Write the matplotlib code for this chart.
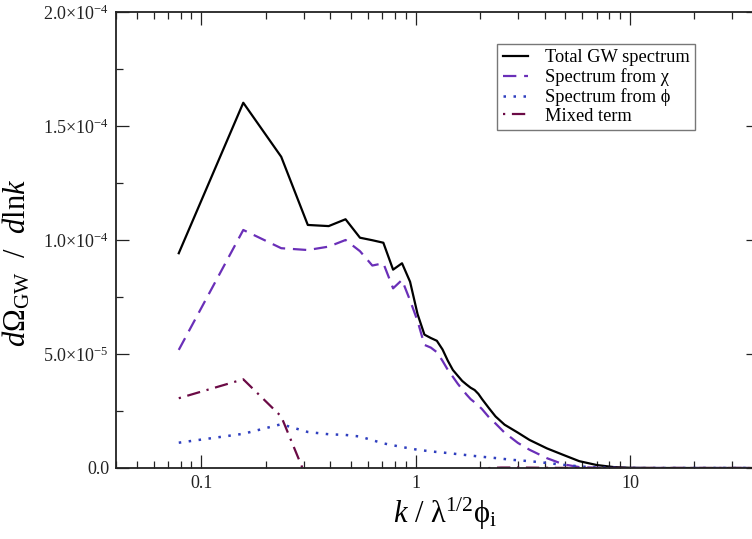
import numpy as np
import matplotlib
matplotlib.use("Agg")
import matplotlib.pyplot as plt
from matplotlib.ticker import FixedLocator, FixedFormatter, LogLocator, NullFormatter

plt.rcParams['font.family'] = ['Liberation Serif', 'DejaVu Serif']
plt.rcParams['mathtext.fontset'] = 'custom'
plt.rcParams['mathtext.rm'] = 'Liberation Serif'
plt.rcParams['mathtext.it'] = 'Liberation Serif:italic'

# k / lambda^(1/2) phi_i
k_main = [0.0785, 0.157, 0.236, 0.314, 0.393, 0.471, 0.550, 0.628, 0.707, 0.785,
          0.864, 0.942, 1.021, 1.099, 1.178, 1.256, 1.335, 1.414, 1.492, 1.571,
          1.649, 1.728, 1.806, 1.885, 1.963, 2.042, 2.2, 2.36, 2.6, 3.0,
          3.4, 4.1, 4.9, 5.8, 7.0, 8.4, 10.0, 13.0, 20.0, 37.0]

# values in units of 1e-4
total_gw = [0.942, 1.602, 1.365, 1.066, 1.061, 1.091, 1.010, 0.999, 0.988, 0.870,
            0.898, 0.817, 0.675, 0.585, 0.570, 0.558, 0.520, 0.470, 0.430, 0.405,
            0.382, 0.366, 0.352, 0.342, 0.325, 0.302, 0.262, 0.226, 0.190, 0.155,
            0.123, 0.086, 0.057, 0.030, 0.013, 0.004, 0.001, 0.0, 0.0, 0.0]

spec_chi = [0.518, 1.044, 0.964, 0.956, 0.971, 1.000, 0.951, 0.888, 0.898, 0.788,
            0.825, 0.735, 0.645, 0.540, 0.528, 0.508, 0.470, 0.430, 0.400, 0.370,
            0.345, 0.322, 0.302, 0.288, 0.274, 0.258, 0.222, 0.195, 0.155, 0.110,
            0.080, 0.043, 0.016, 0.004, 0.001, 0.0, 0.0, 0.0, 0.0, 0.0]

k_phi = [0.0785, 0.157, 0.236, 0.314, 0.393, 0.471, 0.550, 0.628, 0.707, 0.864,
         1.021, 1.2, 1.4, 1.6, 2.0, 2.4, 2.8, 3.4, 4.1, 5.0,
         6.0, 7.0, 10.0, 20.0, 37.0]
spec_phi = [0.111, 0.150, 0.192, 0.158, 0.148, 0.145, 0.138, 0.122, 0.108, 0.092,
            0.080, 0.072, 0.066, 0.060, 0.050, 0.043, 0.036, 0.030, 0.022, 0.013,
            0.006, 0.002, 0.0, 0.0, 0.0]

k_mix = [0.0785, 0.157, 0.236, 0.314, 0.393, 0.471, 0.550, 0.707, 0.864, 1.021,
         1.5, 1.8, 2.0, 2.5, 3.0, 4.0, 6.0, 10.0, 37.0]
mixed = [0.306, 0.389, 0.226, -0.057, -0.058, -0.054, -0.070, -0.020, -0.030, -0.050,
         -0.034, -0.015, -0.002, 0.002, 0.002, 0.001, 0.0, 0.0, 0.0]

y_ticks = [0.0, 5e-5, 1e-4, 1.5e-4, 2e-4]
y_tick_labels = ['0.0', r'$5.0{\times}10^{-5}$', r'$1.0{\times}10^{-4}$',
                 r'$1.5{\times}10^{-4}$', r'$2.0{\times}10^{-4}$']
x_ticks = [0.1, 1, 10]
x_tick_labels = ['0.1', '1', '10']

scale = 1e-4

fig = plt.figure(figsize=(7.52, 5.39), dpi=100)
ax = fig.add_axes([116/752, 71/539, 643/752, 456/539])

ax.plot(k_main, np.array(total_gw) * scale, color='black', lw=1.6,
        label='Total GW spectrum')
ax.plot(k_main, np.array(spec_chi) * scale, color='#6a2fb8', lw=1.6,
        dashes=(6, 3.5), label='Spectrum from χ')
ax.plot(k_phi, np.array(spec_phi) * scale, color='#2f3fbf', lw=1.8,
        dashes=(1, 3), label='Spectrum from ϕ')
ax.plot(k_mix, np.array(mixed) * scale, color='#6b0a45', lw=1.6,
        linestyle=(9, (6, 3, 1, 3)), label='Mixed term')

ax.set_xscale('log')
ax.set_xlim(0.04, 40)
ax.set_ylim(0, 2e-4)

ax.xaxis.set_major_locator(FixedLocator(x_ticks))
ax.xaxis.set_major_formatter(FixedFormatter(x_tick_labels))
ax.xaxis.set_minor_locator(LogLocator(base=10, subs=np.arange(2, 10)))
ax.xaxis.set_minor_formatter(NullFormatter())
ax.yaxis.set_major_locator(FixedLocator(y_ticks))
ax.yaxis.set_major_formatter(FixedFormatter(y_tick_labels))
ax.yaxis.set_minor_locator(FixedLocator([2.5e-5, 7.5e-5, 1.25e-4, 1.75e-4]))

ax.tick_params(which='both', direction='in', top=True, right=True,
               labelsize=13, colors='#222222', width=0.9)
ax.tick_params(which='major', length=9.5, pad=5)
ax.tick_params(which='minor', length=5)
for s in ax.spines.values():
    s.set_linewidth(1.3)
    s.set_color('#222222')

ax.set_xlabel(r'$k$ / λ$^{1/2}$ϕ$_{\mathrm{i}}$', fontsize=22)
ax.set_ylabel(r'$d$Ω$_{\mathrm{GW}}$  /  $d$ln$k$', fontsize=22)
ax.xaxis.set_label_coords((445 - 116) / 643, -0.06)
ax.yaxis.set_label_coords(-0.13, 0.45)

leg = ax.legend(loc='upper left', bbox_to_anchor=(497/752, 1 - 44/539),
                bbox_transform=fig.transFigure, borderaxespad=0,
                fontsize=13.2, frameon=True, fancybox=False,
                handlelength=1.4, handletextpad=0.9, labelspacing=0.1,
                borderpad=0.3)
leg.get_frame().set_edgecolor('#555555')
leg.get_frame().set_linewidth(1.0)

fig.savefig('out.png', dpi=100)
